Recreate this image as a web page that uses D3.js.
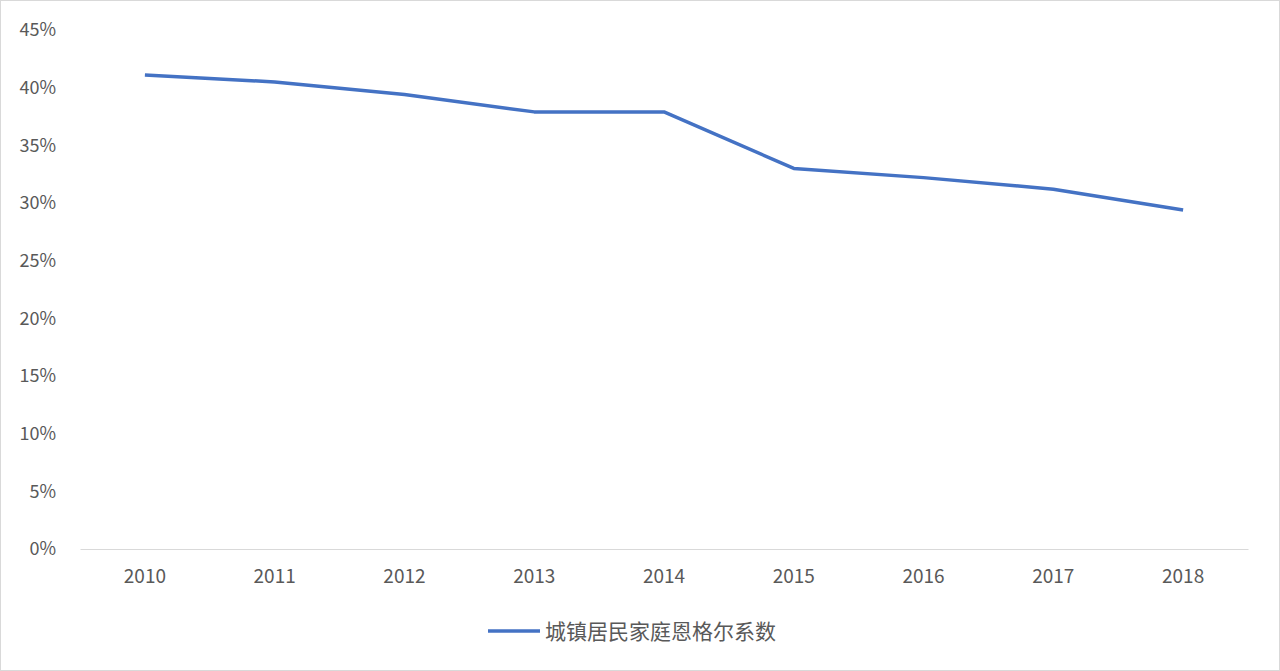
<!DOCTYPE html>
<html><head><meta charset="utf-8">
<script src="https://cdn.jsdelivr.net/npm/d3@7/dist/d3.min.js"></script>
<style>body{margin:0;background:#fff}svg{display:block}</style>
</head><body><svg id="c" width="1280" height="671"></svg>
<script>
const years = ["2010","2011","2012","2013","2014","2015","2016","2017","2018"];
const engel = [41.1, 40.5, 39.4, 37.9, 37.9, 33.0, 32.2, 31.2, 29.4];
const yTicks = [0,5,10,15,20,25,30,35,40,45];
const seriesName = "城镇居民家庭恩格尔系数";

const svg = d3.select("#c");
const font = "'Noto Sans CJK SC','Noto Sans',sans-serif";
svg.append("rect").attr("x",0.5).attr("y",0.5).attr("width",1279).attr("height",670)
  .attr("fill","#fff").attr("stroke","#d9d9d9");
const x = d3.scaleBand().domain(years).range([80,1248]);
const y = d3.scaleLinear().domain([0,45]).range([549,30]);

const ya = svg.append("g").attr("transform","translate(59,0)")
  .call(d3.axisLeft(y).tickValues(yTicks).tickFormat(d=>d+"%").tickSize(0));
ya.select(".domain").remove();
ya.selectAll("text").attr("fill","#595959").style("font-size","18px").style("font-family",font);

const xa = svg.append("g").attr("transform","translate(0,549)")
  .call(d3.axisBottom(x).tickSize(0).tickPadding(21));
xa.select(".domain").attr("stroke","#d9d9d9");
xa.selectAll("text").attr("fill","#595959").style("font-size","19px").style("font-family",font);

svg.append("path").datum(engel)
  .attr("d", d3.line().x((d,i)=>x(years[i])+x.bandwidth()/2).y(d=>y(d)))
  .attr("fill","none").attr("stroke","#4472c4").attr("stroke-width",3.5).attr("stroke-linejoin","round");

svg.append("line").attr("x1",488).attr("x2",540).attr("y1",631).attr("y2",631)
  .attr("stroke","#4472c4").attr("stroke-width",3.5);
svg.append("text").attr("x",545).attr("y",639).text(seriesName)
  .attr("fill","#595959").style("font-size","21px").style("font-family",font);
</script></body></html>
